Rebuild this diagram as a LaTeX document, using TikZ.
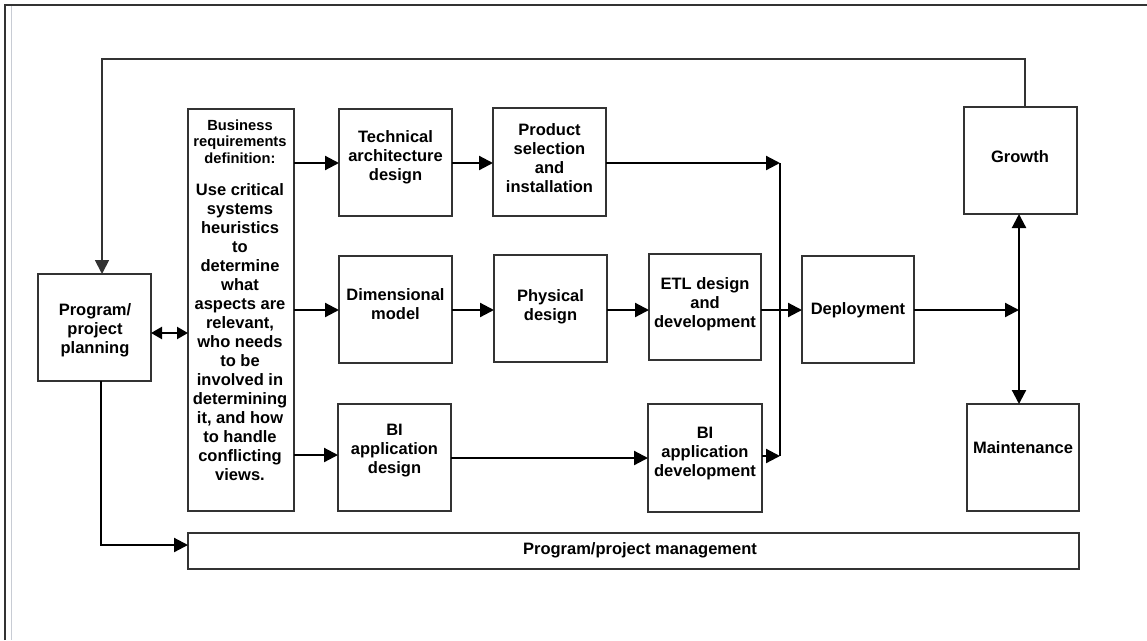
\documentclass[tikz,border=0pt]{standalone}
\usepackage{fontspec}
\setmainfont{Liberation Sans}
\usetikzlibrary{arrows.meta,calc}
\definecolor{boxgray}{HTML}{333333}
\definecolor{framegray}{HTML}{333333}
\definecolor{lightframe}{HTML}{C8CCD4}
\begin{document}
\begin{tikzpicture}[x=1pt,y=-1pt,
  box/.style={draw=boxgray,line width=1.8pt,fill=white,inner sep=0pt,outer sep=0pt},
  txt/.style={font=\bfseries\fontsize{16.5}{19}\selectfont,align=center,inner sep=0pt},
  hdr/.style={font=\bfseries\fontsize{14.7}{16.7}\selectfont,align=center,inner sep=0pt},
  conn/.style={line width=2.2pt,-{Triangle[length=14pt,width=14pt]}},
  dconn/.style={line width=2.2pt,{Triangle[length=14pt,width=14pt]}-{Triangle[length=14pt,width=14pt]}},
  sconn/.style={line width=2.2pt,{Triangle[length=11pt,width=12pt]}-{Triangle[length=11pt,width=12pt]}},
  plain/.style={line width=2.2pt},
  fb/.style={line width=1.8pt,draw=framegray,-{Triangle[length=14pt,width=14pt]}},
]
\useasboundingbox (0,0) rectangle (1147,640);
\fill[white] (0,0) rectangle (1147,640);
% frame
\draw[lightframe,line width=1pt] (11,6) -- (11,640);
\draw[framegray,line width=1.3pt] (5,640) -- (5,5) -- (1147,5);

% boxes
\node[box,minimum width=113pt,minimum height=107pt] (plan) at (94.5,327.5) {};
\node[box,minimum width=106pt,minimum height=402pt] (bus) at (241,310) {};
\node[box,minimum width=113pt,minimum height=107pt] (tech) at (395.5,162.5) {};
\node[box,minimum width=113pt,minimum height=108pt] (prod) at (549.5,162) {};
\node[box,minimum width=113pt,minimum height=107pt] (dim) at (395.5,309.5) {};
\node[box,minimum width=113pt,minimum height=107pt] (phys) at (550.5,308.5) {};
\node[box,minimum width=112pt,minimum height=106pt] (etl) at (705,307) {};
\node[box,minimum width=112pt,minimum height=107pt] (dep) at (858,309.5) {};
\node[box,minimum width=113pt,minimum height=107pt] (bides) at (394.5,457.5) {};
\node[box,minimum width=114pt,minimum height=108pt] (bidev) at (705,458) {};
\node[box,minimum width=112pt,minimum height=107pt] (maint) at (1023,457.5) {};
\node[box,minimum width=113pt,minimum height=107pt] (growth) at (1020.5,160.5) {};
\node[box,minimum width=891pt,minimum height=36pt] (mgmt) at (633.5,551) {};

% texts
\node[txt] (tplan) at (95,330) {Program/\\project\\planning};
\node[hdr] (tbush) at (240,141.7) {Business\\requirements\\definition:};
\node[txt] (tbusb) at (240,332) {Use critical\\systems\\heuristics\\to\\determine\\what\\aspects are\\relevant,\\who needs\\to be\\involved in\\determining\\it, and how\\to handle\\conflicting\\views.};
\node[txt] (ttech) at (395.5,157) {Technical\\architecture\\design};
\node[txt] (tprod) at (549.5,158.5) {Product\\selection\\and\\installation};
\node[txt] (tdim) at (395.5,304.5) {Dimensional\\model};
\node[txt] (tphys) at (550.5,306.5) {Physical\\design};
\node[txt] (tetl) at (705,304) {ETL design\\and\\development};
\node[txt] (tdep) at (858,310) {Deployment};
\node[txt] (tgrowth) at (1020,157) {Growth};
\node[txt] (tmaint) at (1023,448) {Maintenance};
\node[txt] (tbides) at (394.5,451) {BI\\application\\design};
\node[txt] (tbidev) at (705,454) {BI\\application\\development};
\node[txt] (tmgmt) at (640,550) {Program/project management};

% junction coordinates
\coordinate (j1) at (780,163);
\coordinate (j2) at (780,456);
\coordinate (j3) at (1019,310);
\coordinate (k1) at (1025,59);
\coordinate (k2) at (102,59);
\coordinate (m) at (101,545);
\coordinate (d) at (170,333);

% connectors
\draw[sconn] (plan.east |- d) -- (bus.west |- d);
\draw[conn] (bus.east |- j1) -- (tech.west |- j1);
\draw[conn] (bus.east |- j3) -- (dim.west |- j3);
\draw[conn] (bus.east |- 0,455) -- (bides.west |- 0,455);
\draw[conn] (tech.east |- j1) -- (prod.west |- j1);
\draw[conn] (prod.east |- j1) -- (j1);
\draw[plain] (j1) -- (j2);
\draw[conn] (bidev.east |- j2) -- (j2);
\draw[conn] (bides.east |- 0,458) -- (bidev.west |- 0,458);
\draw[conn] (dim.east |- j3) -- (phys.west |- j3);
\draw[conn] (phys.east |- j3) -- (etl.west |- j3);
\draw[conn] (etl.east |- j3) -- (dep.west |- j3);
\draw[conn] (dep.east |- j3) -- (j3);
\draw[dconn] (growth.south -| j3) -- (maint.north -| j3);
\draw[fb] (growth.north -| k1) -- (k1) -- (k2) -- (plan.north -| k2);
\draw[conn] (plan.south -| m) -- (m) -- (mgmt.west |- m);
\end{tikzpicture}
\end{document}
